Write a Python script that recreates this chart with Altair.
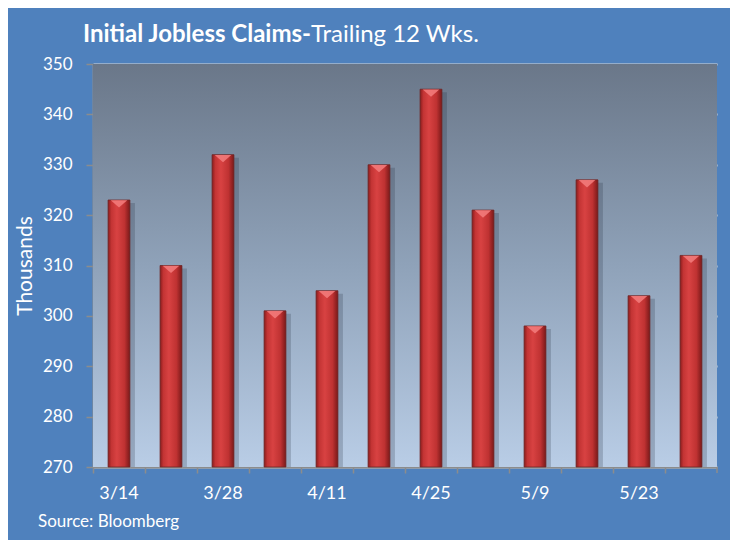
import altair as alt
import pandas as pd

weeks = ["3/14", "3/21", "3/28", "4/4", "4/11", "4/18", "4/25", "5/2", "5/9", "5/16", "5/23", "5/30"]
claims = [323, 310, 332, 301, 305, 330, 345, 321, 298, 327, 304, 312]
shown_labels = ["3/14", "3/28", "4/11", "4/25", "5/9", "5/23"]
y_ticks = [270, 280, 290, 300, 310, 320, 330, 340, 350]

df = pd.DataFrame({"week": weeks, "claims": claims})
one = pd.DataFrame({"k": [0]})

W, H = 624, 403
FONT = "Lato"
BLUE = "#4f81bd"

label_list = "[" + ",".join("'" + s + "'" for s in shown_labels) + "]"

x_enc = alt.X(
    "week:N", sort=weeks, title=None,
    scale=alt.Scale(paddingInner=0, paddingOuter=0),
    axis=alt.Axis(
        bandPosition=0, labelAngle=0,
        labelExpr=f"indexof({label_list}, datum.value) >= 0 ? datum.label : ''",
        labelColor="white", labelFont=FONT, labelFontSize=18, labelPadding=11,
        tickColor="#8c8c8c", tickSize=6, tickWidth=1.5,
        domainColor="#8c8c8c", domainWidth=2, grid=False,
    ),
)
y_enc = alt.Y(
    "claims:Q", title="Thousands",
    scale=alt.Scale(domain=[270, 350], zero=False, nice=False),
    axis=alt.Axis(
        values=y_ticks, labelColor="white", labelFont=FONT, labelFontSize=17,
        labelPadding=14, tickColor="#8c8c8c", tickSize=7, tickWidth=1.5,
        domainColor="#8c8c8c", domainWidth=2,
        grid=True, gridColor="#d9d9d9", gridWidth=2,
        titleColor="white", titleFont=FONT, titleFontSize=21, titleFontWeight="normal",
        titlePadding=7,
    ),
)

bg = alt.Chart(one).mark_rect(
    color=alt.LinearGradient(
        gradient="linear", x1=0, x2=0, y1=0, y2=1,
        stops=[alt.GradientStop(color="#6a7789", offset=0),
               alt.GradientStop(color="#8fa2b9", offset=0.5),
               alt.GradientStop(color="#b9cde6", offset=1)],
    )
).encode(x=alt.value(0), x2=alt.value(W), y=alt.value(0), y2=alt.value(H))

BAR_W = alt.RelativeBandSize(0.42)

shadow = alt.Chart(df).mark_bar(
    color="#1f2a3a", opacity=0.22, xOffset=5, yOffset=3, clip=True, width=BAR_W
).encode(x=x_enc, y=y_enc, y2=alt.datum(270))

bars = alt.Chart(df).mark_bar(
    width=BAR_W,
    color=alt.LinearGradient(
        gradient="linear", x1=0, x2=1, y1=0, y2=0,
        stops=[alt.GradientStop(color="#8a1c1c", offset=0),
               alt.GradientStop(color="#c33434", offset=0.15),
               alt.GradientStop(color="#d84242", offset=0.4),
               alt.GradientStop(color="#bf3232", offset=0.75),
               alt.GradientStop(color="#7a1919", offset=1)],
    ),
    stroke="#6e2626", strokeWidth=0.8,
).encode(x=x_enc, y=y_enc, y2=alt.datum(270))

caps = alt.Chart(df).mark_point(
    shape="M-0.85,-1L0.85,-1L0,-0.25Z", filled=True, color="#f27a7a",
    opacity=0.9, size=380, yOffset=10,
).encode(x=x_enc, y=y_enc)

end_tick = alt.Chart(one).mark_rule(color="#8c8c8c", strokeWidth=1.5).encode(
    x=alt.value(W), y=alt.value(H), y2=alt.value(H + 6)
)

title1 = alt.Chart(one).mark_text(
    text="Initial Jobless Claims-", align="left", baseline="alphabetic",
    font=FONT, fontSize=24, fontWeight="bold", color="white",
).encode(x=alt.value(-10), y=alt.value(-22))

title2 = alt.Chart(one).mark_text(
    text="Trailing 12 Wks.", align="left", baseline="alphabetic",
    font=FONT, fontSize=24, fontWeight="normal", color="white",
).encode(x=alt.value(218), y=alt.value(-22))

source = alt.Chart(one).mark_text(
    text="Source: Bloomberg", align="left", baseline="middle",
    font=FONT, fontSize=17, color="white",
).encode(x=alt.value(-55), y=alt.value(458))

chart = alt.layer(bg, shadow, bars, caps, end_tick, title1, title2, source).properties(
    width=W, height=H,
    background=BLUE,
    autosize=alt.AutoSizeParams(type="none"),
    padding={"left": 85, "top": 56, "right": 13, "bottom": 73},
).configure_view(stroke=None)

chart.save("out.html", embed_options={"renderer": "svg", "actions": False})
